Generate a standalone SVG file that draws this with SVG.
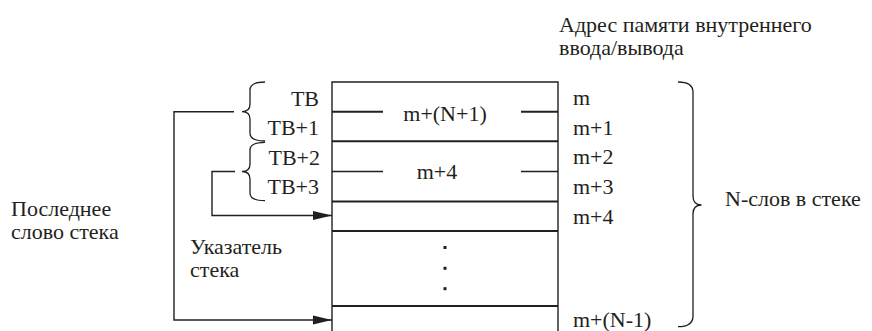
<svg xmlns="http://www.w3.org/2000/svg" width="872" height="331" viewBox="0 0 872 331" font-family="Liberation Serif, Times New Roman, Tinos, Noto Serif, DejaVu Serif, FreeSerif, serif">
<style>
text{font-family:'Liberation Serif','Times New Roman',Tinos,'Noto Serif','DejaVu Serif',FreeSerif,serif;font-size:22px;fill:#231f20}
.ln{stroke:#231f20;stroke-width:1.4;fill:none}
.th{stroke:#231f20;stroke-width:2;fill:none}
.br{stroke:#231f20;stroke-width:1.3;fill:none}
.e{text-anchor:end}
.m{text-anchor:middle}
</style>
<defs>
<marker id="ah" markerWidth="19" markerHeight="10" refX="19" refY="5" orient="auto" markerUnits="userSpaceOnUse">
<path d="M0,0.5 L19,5 L0,9.5 Z" fill="#231f20"/>
</marker>
</defs>
<rect width="872" height="331" fill="#fff"/>
<g id="header">
<text x="559" y="31.5">Адрес памяти внутреннего<tspan x="559" dy="23.5">ввода/вывода</tspan></text>
</g>
<g id="stack">
<path class="ln" d="M332,331 V82 H558 V331"/>
<line class="th" x1="332" y1="141.3" x2="558" y2="141.3"/>
<line class="th" x1="332" y1="201.5" x2="558" y2="201.5"/>
<line class="th" x1="332" y1="231" x2="558" y2="231"/>
<line class="th" x1="332" y1="306" x2="558" y2="306"/>
<line class="th" x1="332" y1="111.7" x2="383" y2="111.7"/>
<line class="th" x1="521" y1="111.7" x2="558" y2="111.7"/>
<line class="ln" x1="332" y1="171.5" x2="383" y2="171.5"/>
<line class="ln" x1="521" y1="171.5" x2="558" y2="171.5"/>
<text class="m" x="445" y="121">m+(N+1)</text>
<text class="m" x="437" y="178.5">m+4</text>
<rect x="443.5" y="246" width="3" height="3" fill="#231f20"/>
<rect x="443.5" y="266.8" width="3" height="3" fill="#231f20"/>
<rect x="443.5" y="287.2" width="3" height="3" fill="#231f20"/>
</g>
<g id="tb-labels">
<path class="br" d="M265,82 Q250,82 250,90 V104 Q250,111.7 242,111.7 Q250,111.7 250,119 V133 Q250,141 265,141"/>
<path class="br" d="M265,142.3 Q250,142.3 250,150 V164 Q250,171.5 242,171.5 Q250,171.5 250,179 V193 Q250,200.7 265,200.7"/>
<text class="e" x="319" y="106">TB</text>
<text class="e" x="319" y="135">TB+1</text>
<text class="e" x="320" y="164.5">TB+2</text>
<text class="e" x="319" y="194">TB+3</text>
</g>
<g id="addresses">
<text x="573" y="105">m</text>
<text x="573" y="134.5">m+1</text>
<text x="573" y="164">m+2</text>
<text x="573" y="194">m+3</text>
<text x="573" y="223.5">m+4</text>
<text x="573" y="326.5">m+(N-1)</text>
<path class="br" d="M678,82 Q693,82 693,92 V196 Q693,205 701.5,205 Q693,205 693,214 V316 Q693,326.7 678,326.7"/>
<text x="725" y="206">N-слов в стеке</text>
</g>
<g id="last-word">
<text x="11" y="215.5">Последнее<tspan x="11" dy="23">слово стека</tspan></text>
</g>
<g id="pointer">
<text x="190" y="253.5">Указатель<tspan x="190" dy="23">стека</tspan></text>
</g>
<g id="connectors">
<polyline class="ln" points="234,111.7 174,111.7 174,320 332,320" marker-end="url(#ah)"/>
<polyline class="ln" points="235,171.5 212,171.5 212,215.5 332,215.5" marker-end="url(#ah)"/>
</g>
</svg>
